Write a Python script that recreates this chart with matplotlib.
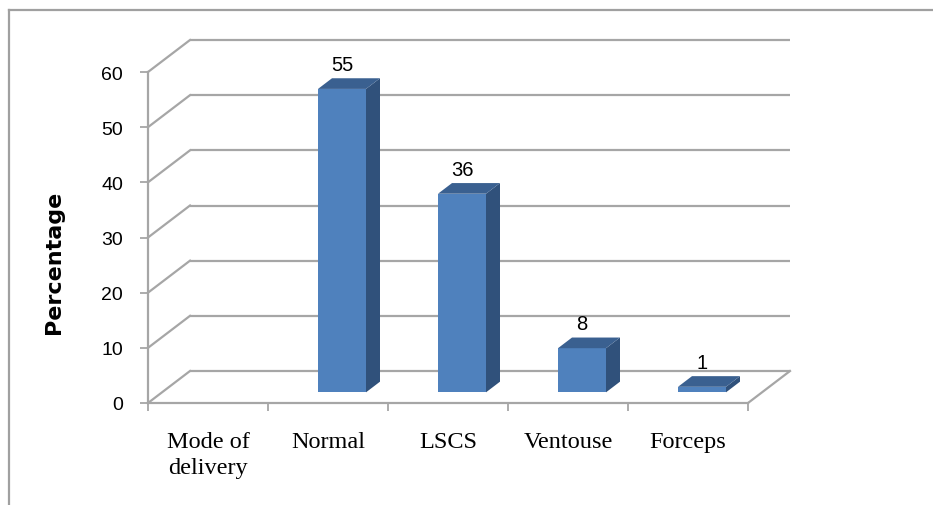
import matplotlib
matplotlib.use('Agg')

import matplotlib.pyplot as plt
import numpy as np
from matplotlib.patches import Polygon
from matplotlib.lines import Line2D

# Mode of delivery (%); the first category is a header row with no value
categories = ['Mode of\ndelivery', 'Normal', 'LSCS', 'Ventouse', 'Forceps']
values = [np.nan, 55, 36, 8, 1]
y_ticks = [0, 10, 20, 30, 40, 50, 60]

FRONT = '#4F81BD'
SIDE = '#30517B'
TOP = '#3A6090'
GRID = '#A6A6A6'

# oblique depth of the floor, in data units (x, y)
DX, DY = 0.35, 5.8
BAR_W = 0.4
D0, D1 = 1 / 3, 2 / 3   # depth slice occupied by each bar

fig = plt.figure(figsize=(9.33, 5.06), dpi=100)
ax = fig.add_axes([148 / 933, 102 / 506, 600 / 933, 331 / 506])
ax.set_xlim(-0.5, len(categories) - 0.5)
ax.set_ylim(0, 60)

# walls: back gridlines and left-wall diagonals
x_lo, x_hi = -0.5, len(categories) - 0.5
for t in y_ticks:
    ax.plot([x_lo + DX, x_hi + DX], [t + DY, t + DY], color=GRID, lw=1.6,
            clip_on=False, zorder=1, solid_capstyle='butt')
    ax.plot([x_lo, x_lo + DX], [t, t + DY], color=GRID, lw=1.6,
            clip_on=False, zorder=1)
# right edge of the floor
ax.plot([x_hi, x_hi + DX], [0, DY], color=GRID, lw=1.6, clip_on=False, zorder=1)

# 3-D looking bars
xs = np.arange(len(categories))
for x, v in zip(xs, values):
    if np.isnan(v):
        continue
    fx, fy = x + D0 * DX, D0 * DY
    bx, by = x + D1 * DX, D1 * DY
    ax.bar(fx, v, bottom=fy, width=BAR_W, color=FRONT, zorder=3, clip_on=False)
    side = [(fx + BAR_W / 2, fy), (bx + BAR_W / 2, by),
            (bx + BAR_W / 2, by + v), (fx + BAR_W / 2, fy + v)]
    top = [(fx - BAR_W / 2, fy + v), (fx + BAR_W / 2, fy + v),
           (bx + BAR_W / 2, by + v), (bx - BAR_W / 2, by + v)]
    ax.add_patch(Polygon(side, closed=True, fc=SIDE, ec='none', zorder=3, clip_on=False))
    ax.add_patch(Polygon(top, closed=True, fc=TOP, ec='none', zorder=3, clip_on=False))
    ax.annotate(f'{v:g}', xy=(fx, by + v), xytext=(0, 3), textcoords='offset points',
                ha='center', va='bottom', fontsize=14.5, family='Liberation Sans',
                zorder=4)

# axes styling
for s in ['top', 'right']:
    ax.spines[s].set_visible(False)
for s in ['left', 'bottom']:
    ax.spines[s].set_color(GRID)
    ax.spines[s].set_linewidth(1.6)
ax.set_facecolor('none')

ax.set_yticks(y_ticks)
ax.tick_params(axis='y', length=6, width=1.3, color=GRID, pad=12,
               labelsize=14)
for lbl in ax.get_yticklabels():
    lbl.set_family('Liberation Sans')

ax.set_xticks(xs)
ax.set_xticklabels(categories, fontsize=17.5, family='Liberation Serif',
                   linespacing=1.3, va='top')
ax.tick_params(axis='x', which='major', length=0, pad=20)
ax.set_xticks(np.arange(-0.5, len(categories)), minor=True)
ax.tick_params(axis='x', which='minor', length=6, width=1.3, color=GRID)

fig.text(54 / 933, 1 - 262 / 506, 'Percentage', rotation=90, ha='center',
         va='center', fontsize=16, fontweight='bold', family='DejaVu Sans')

# outer chart border
fig.add_artist(Line2D([9 / 933, 9 / 933], [0, 1 - 11 / 506], color='#A0A0A0', lw=1.6))
fig.add_artist(Line2D([9 / 933, 1], [1 - 11 / 506, 1 - 11 / 506], color='#A0A0A0', lw=1.6))

fig.savefig('out.png', dpi=100)
plt.close(fig)
